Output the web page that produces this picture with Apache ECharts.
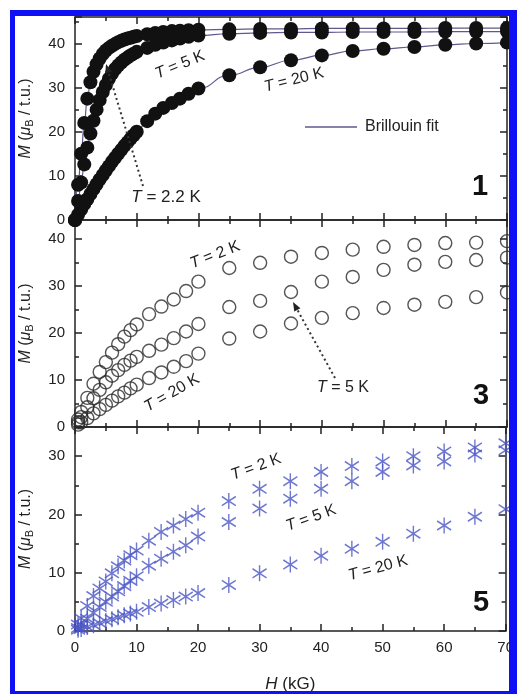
<!DOCTYPE html>
<html>
<head>
<meta charset="utf-8">
<script src="https://cdn.jsdelivr.net/npm/echarts@6/dist/echarts.min.js"></script>
<style>
  html, body { margin: 0; padding: 0; background: #fff; }
  #main { width: 517px; height: 694px; }
</style>
</head>
<body>
<div id="main"></div>
<script>
// field values (kG)
var hFit = [0, 0.5, 1, 1.5, 2, 2.5, 3, 3.5, 4, 4.5, 5, 5.5, 6, 6.5, 7, 7.5, 8, 8.5, 9, 9.5, 10,
  11.7, 13, 14.3, 15.7, 17, 18.4, 20, 25, 30, 35, 40, 45, 50, 55, 60, 65, 70];
var hGrid = [0.5, 1, 2, 3, 4, 5, 6, 7, 8, 9, 10, 12, 14, 16, 18, 20, 25, 30, 35, 40, 45, 50, 55, 60, 65, 70];

// panel 1 (filled circles + Brillouin fit)
var m1T22 = [0, 8, 15, 22, 27.5, 31.2, 33.6, 35.3, 36.6, 37.6, 38.4, 39.0, 39.5, 39.9, 40.3, 40.6, 40.9, 41.1, 41.3, 41.5, 41.7,
  42.1, 42.4, 42.6, 42.8, 42.9, 43.0, 43.1, 43.2, 43.3, 43.3, 43.4, 43.4, 43.4, 43.4, 43.5, 43.5, 43.5];
var m1T5 = [0, 4.3, 8.5, 12.6, 16.4, 19.6, 22.5, 25.0, 27.2, 29.0, 30.6, 32.0, 33.2, 34.2, 35.0, 35.7, 36.3, 36.8, 37.3, 37.7, 38.1,
  39.0, 39.7, 40.2, 40.7, 41.1, 41.5, 41.8, 42.2, 42.4, 42.5, 42.5, 42.6, 42.6, 42.6, 42.7, 42.7, 42.7];
var m1T20 = [0, 1.2, 2.4, 3.6, 4.7, 5.9, 7.0, 8.1, 9.2, 10.2, 11.2, 12.2, 13.2, 14.1, 15.0, 15.9, 16.8, 17.6, 18.4, 19.2, 20.0,
  22.4, 24.1, 25.4, 26.5, 27.5, 28.6, 29.8, 32.8, 34.6, 36.2, 37.3, 38.3, 38.8, 39.2, 39.7, 40.0, 40.2];

// panel 3 (open circles)
var m3T2 = [1.6, 3.2, 6.2, 9.2, 11.7, 13.8, 15.8, 17.6, 19.2, 20.6, 21.8, 24.0, 25.6, 27.1, 28.9, 30.9,
  33.8, 34.9, 36.2, 37.0, 37.7, 38.3, 38.7, 39.1, 39.2, 39.5];
var m3T5 = [1.0, 2.1, 4.2, 6.1, 7.9, 9.5, 10.9, 12.1, 13.2, 14.1, 14.9, 16.2, 17.5, 18.9, 20.3, 21.9,
  25.5, 26.8, 28.7, 30.9, 31.9, 33.4, 34.5, 35.1, 35.5, 36.0];
var m3T20 = [0.5, 1.0, 1.9, 2.9, 3.8, 4.7, 5.6, 6.5, 7.3, 8.2, 9.0, 10.4, 11.6, 12.8, 14.0, 15.6,
  18.8, 20.3, 22.0, 23.2, 24.2, 25.3, 26.0, 26.6, 27.6, 28.6];

// panel 5 (asterisks)
var m5T2 = [1.1, 2.2, 4.3, 6.0, 7.3, 8.5, 9.9, 11.1, 12.1, 13.0, 13.8, 15.5, 17.0, 18.1, 19.2, 20.3,
  22.3, 24.4, 25.7, 27.3, 28.3, 29.1, 30.0, 30.8, 31.5, 32.2];
var m5T5 = [0.5, 1.1, 2.1, 3.1, 4.1, 5.0, 5.9, 6.8, 7.7, 8.6, 9.4, 11.2, 12.4, 13.6, 14.7, 16.2,
  18.7, 21.0, 22.7, 24.4, 25.7, 27.3, 28.4, 29.1, 30.3, 31.0];
var m5T20 = [0.2, 0.35, 0.7, 1.0, 1.35, 1.7, 2.0, 2.35, 2.7, 3.0, 3.3, 4.1, 4.7, 5.3, 5.9, 6.5,
  7.9, 9.9, 11.4, 12.9, 14.1, 15.3, 16.7, 18.1, 19.6, 20.9];

var yMax = [46, 44, 35];

var INK = '#222';
var FONT = '"Liberation Sans", Arial, sans-serif';
var FIT = '#63578f';
var STAR = '#4a55c4';

function pairs(xs, ys) {
  return xs.map(function (x, i) { return [x, ys[i]]; });
}

var chartDom = document.getElementById('main');
var myChart = echarts.init(chartDom);

var lineSty = {color: INK, width: 1.5};
var grids = [
  {left: 75, top: 17, width: 432, height: 203},
  {left: 75, top: 220, width: 432, height: 207},
  {left: 75, top: 427, width: 432, height: 206}
];

var xAxes = [];
var yAxes = [];
grids.forEach(function (g, gi) {
  var last = gi === 2;
  var xBase = {
    gridIndex: gi, type: 'value', min: 0, max: 70, interval: 10,
    axisLine: {show: true, onZero: false, lineStyle: lineSty},
    axisTick: {inside: true, length: 7, lineStyle: lineSty},
    minorTick: {show: true, splitNumber: 2, length: 4, lineStyle: lineSty},
    splitLine: {show: false}
  };
  xAxes.push(Object.assign({}, xBase, {
    position: 'bottom',
    axisLabel: {show: last, color: INK, fontSize: 15, fontFamily: FONT, margin: 9},
    name: last ? '{i|H} (kG)' : '',
    nameLocation: 'middle', nameGap: 45,
    nameTextStyle: {color: INK, fontSize: 17, fontFamily: FONT,
      rich: {i: {fontStyle: 'italic', fontSize: 17, fontFamily: FONT, color: INK}}}
  }));
  xAxes.push(Object.assign({}, xBase, {position: 'top', axisLabel: {show: false}}));

  var yBase = {
    gridIndex: gi, type: 'value', min: 0, max: yMax[gi], interval: 10,
    splitLine: {show: false}
  };
  yAxes.push(Object.assign({}, yBase, {
    position: 'left',
    axisLine: {show: true, onZero: false, lineStyle: lineSty},
    axisTick: {inside: true, length: 7, lineStyle: lineSty},
    axisLabel: {color: INK, fontSize: 15, fontFamily: FONT, margin: 10,
      formatter: function (v) { return v % 10 === 0 ? String(v) : ''; }},
    name: '{i|M} ({i|\u03bc}{s|B} / t.u.)',
    nameLocation: 'middle', nameGap: 40, nameRotate: 90,
    nameTextStyle: {color: INK, fontSize: 16, fontFamily: FONT,
      rich: {
        i: {fontStyle: 'italic', fontSize: 16, fontFamily: FONT, color: INK},
        s: {fontSize: 11, fontFamily: FONT, color: INK, verticalAlign: 'bottom', padding: [7, 0, 0, 0]}
      }}
  }));
  yAxes.push(Object.assign({}, yBase, {
    position: 'left', interval: 5,
    axisLine: {show: false, onZero: false},
    axisTick: {inside: true, length: 4, lineStyle: lineSty},
    axisLabel: {show: false}
  }));
  yAxes.push(Object.assign({}, yBase, {
    position: 'right',
    axisLine: {show: true, onZero: false, lineStyle: lineSty},
    axisTick: {inside: true, length: 7, lineStyle: lineSty},
    axisLabel: {show: false}
  }));
  yAxes.push(Object.assign({}, yBase, {
    position: 'right', interval: 5,
    axisLine: {show: false, onZero: false},
    axisTick: {inside: true, length: 4, lineStyle: lineSty},
    axisLabel: {show: false}
  }));
});

function fitSeries(name, ys) {
  return {
    name: name, type: 'line', xAxisIndex: 0, yAxisIndex: 0,
    data: pairs(hFit, ys),
    smooth: true, smoothMonotone: 'x',
    symbol: 'circle', symbolSize: 14, showSymbol: true,
    itemStyle: {color: '#111'},
    lineStyle: {color: FIT, width: 1.2},
    silent: true, animation: false
  };
}
function ringSeries(name, ys) {
  return {
    name: name, type: 'scatter', xAxisIndex: 2, yAxisIndex: 4,
    data: pairs(hGrid, ys),
    symbol: 'circle', symbolSize: 13,
    itemStyle: {color: 'rgba(255,255,255,0)', borderColor: '#2b2b2b', borderWidth: 1.4},
    silent: true, animation: false
  };
}
var starPath = 'path://M0,-10L0,10M-8.2,-5.7L8.2,5.7M-8.2,5.7L8.2,-5.7';
function starSeries(name, ys) {
  return {
    name: name, type: 'scatter', xAxisIndex: 4, yAxisIndex: 8,
    data: pairs(hGrid, ys),
    symbol: starPath, symbolSize: [14, 16],
    itemStyle: {color: 'rgba(0,0,0,0)', borderColor: STAR, borderWidth: 1.5},
    silent: true, animation: false
  };
}

function tLabel(rest, x, y, deg, size) {
  size = size || 16;
  return {
    type: 'text', x: x, y: y, rotation: deg * Math.PI / 180, z: 50,
    style: {
      text: '{i|T} = ' + rest,
      fill: INK, font: size + 'px ' + FONT,
      align: 'center', verticalAlign: 'middle',
      textAlign: 'center', textVerticalAlign: 'middle',
      rich: {i: {fontStyle: 'italic', fontSize: size, fontFamily: FONT, fill: INK, color: INK}}
    }
  };
}
function dottedArrow(x1, y1, x2, y2) {
  var dx = x2 - x1, dy = y2 - y1, len = Math.sqrt(dx * dx + dy * dy);
  var ux = dx / len, uy = dy / len, L = 9, W = 3.5;
  var bx = x2 - ux * L, by = y2 - uy * L;
  return [
    {type: 'polyline', z: 50, shape: {points: [[x1, y1], [bx, by]]},
      style: {stroke: '#333', lineWidth: 2, lineDash: [2, 3], fill: null}},
    {type: 'polygon', z: 50, shape: {points: [[x2, y2], [bx - uy * W, by + ux * W], [bx + uy * W, by - ux * W]]},
      style: {fill: '#222'}}
  ];
}
function bigNum(t, x, y) {
  return {type: 'text', x: x, y: y, z: 50,
    style: {text: t, fill: '#111', font: 'bold 29px ' + FONT,
      align: 'center', verticalAlign: 'middle', textAlign: 'center', textVerticalAlign: 'middle'}};
}

var BLUE = '#1010f4';
var graphics = [
  tLabel('5 K', 180, 65, 22),
  tLabel('20 K', 294, 80, 14),
  tLabel('2.2 K', 166, 197, 0, 17),
  {type: 'line', z: 50, shape: {x1: 305, y1: 127, x2: 357, y2: 127}, style: {stroke: FIT, lineWidth: 1.3}},
  {type: 'text', x: 365, y: 127, z: 50,
    style: {text: 'Brillouin fit', fill: INK, font: '16px ' + FONT,
      align: 'left', verticalAlign: 'middle', textAlign: 'left', textVerticalAlign: 'middle'}},
  bigNum('1', 480, 187),
  tLabel('2 K', 215, 255, 21),
  tLabel('20 K', 172, 393, 30),
  tLabel('5 K', 343, 388, 0),
  bigNum('3', 481, 396),
  tLabel('2 K', 256, 467, 20),
  tLabel('5 K', 311, 518, 20),
  tLabel('20 K', 378, 568, 15),
  bigNum('5', 481, 603)
].concat(dottedArrow(143, 186, 106, 64), dottedArrow(335, 378, 293, 302), [
  {type: 'rect', z: 100, shape: {x: 10, y: 10, width: 507, height: 6}, style: {fill: BLUE}},
  {type: 'rect', z: 100, shape: {x: 10, y: 10, width: 5, height: 684}, style: {fill: BLUE}},
  {type: 'rect', z: 100, shape: {x: 509, y: 10, width: 8, height: 684}, style: {fill: BLUE}},
  {type: 'rect', z: 100, shape: {x: 10, y: 691, width: 507, height: 3}, style: {fill: BLUE}}
]);

var option = {
  backgroundColor: '#fff',
  animation: false,
  grid: grids,
  xAxis: xAxes,
  yAxis: yAxes,
  series: [
    fitSeries('T = 20 K', m1T20),
    fitSeries('T = 5 K', m1T5),
    fitSeries('T = 2.2 K', m1T22),
    ringSeries('T = 20 K', m3T20),
    ringSeries('T = 5 K', m3T5),
    ringSeries('T = 2 K', m3T2),
    starSeries('T = 20 K', m5T20),
    starSeries('T = 5 K', m5T5),
    starSeries('T = 2 K', m5T2)
  ],
  graphic: graphics
};

option && myChart.setOption(option);
</script>
</body>
</html>
